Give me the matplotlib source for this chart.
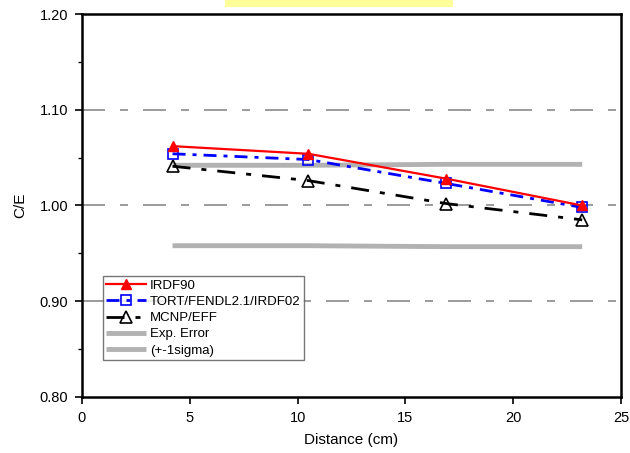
import numpy as np
import matplotlib
matplotlib.use('Agg')
import matplotlib.pyplot as plt
from matplotlib.patches import Rectangle

plt.rcParams['font.family'] = ['Liberation Sans', 'DejaVu Sans']
plt.rcParams['lines.scale_dashes'] = False

# data
distance = [4.2, 10.5, 16.9, 23.2]
irdf90 = [1.062, 1.054, 1.028, 1.000]
tort = [1.054, 1.048, 1.023, 0.998]
mcnp = [1.041, 1.026, 1.002, 0.985]
err_hi = [1.042, 1.042, 1.043, 1.043]
err_lo = [0.958, 0.958, 0.957, 0.957]
grid_levels = [0.90, 1.00, 1.10]

px = 0.72  # points per pixel at dpi 100

fig = plt.figure(figsize=(6.3, 4.53), dpi=100)
ax = fig.add_axes([82 / 630, 56 / 453, 539 / 630, 383 / 453])

# yellow strip at the top
fig.patches.append(Rectangle((225 / 630, 1 - 7 / 453), 228 / 630, 7 / 453,
                             transform=fig.transFigure, facecolor='#ffff99',
                             edgecolor='none'))

for g in grid_levels:
    ax.axhline(g, color='#808080', lw=1.1, dashes=(23 * px, 15 * px, 8 * px, 15 * px), zorder=1)

band_kw = dict(color='#b2b2b2', lw=3.5, solid_capstyle='butt', zorder=2)
ax.plot(distance, err_hi, **band_kw)
ax.plot(distance, err_lo, **band_kw)

ax.plot(distance, irdf90, color='red', lw=1.6, marker='^', ms=7,
        mfc='red', mec='red', zorder=5, label='IRDF90')
ax.plot(distance, tort, color='blue', lw=2, dashes=(13 * px, 7 * px, 4 * px, 7 * px),
        marker='s', ms=7, mfc='none', mec='blue', mew=1.2, zorder=4,
        label='TORT/FENDL2.1/IRDF02')
ax.plot(distance, mcnp, color='black', lw=2, dashes=(18 * px, 11 * px, 5 * px, 11 * px),
        marker='^', ms=9, mfc='none', mec='black', mew=1.2, zorder=3,
        label='MCNP/EFF')
ax.plot([], [], label='Exp. Error', **band_kw)
ax.plot([], [], label='(+-1sigma)', **band_kw)

ax.set_xlim(0, 25)
ax.set_ylim(0.80, 1.20)
ax.set_xticks(np.arange(0, 26, 5))
ax.set_yticks([0.80, 0.90, 1.00, 1.10, 1.20])
ax.set_yticks(np.arange(0.85, 1.2, 0.1), minor=True)
ax.set_yticklabels(['0.80', '0.90', '1.00', '1.10', '1.20'])
ax.tick_params(axis='both', direction='out', length=5, width=1.2, labelsize=10.5, pad=5)
ax.tick_params(axis='y', which='minor', direction='out', length=3, width=1)
for s in ax.spines.values():
    s.set_linewidth(1.8)

ax.set_xlabel('Distance (cm)', fontsize=11, labelpad=6)
ax.set_ylabel('C/E', fontsize=11, labelpad=9)

leg = ax.legend(loc='lower left', bbox_to_anchor=(0.039, 0.097), fontsize=9.5,
                frameon=True, fancybox=False, handlelength=3.0, handletextpad=0.3,
                borderpad=0.25, labelspacing=0.3, borderaxespad=0)
leg.get_frame().set_edgecolor('#555555')
leg.get_frame().set_linewidth(1)

plt.savefig('out.png', dpi=100)
